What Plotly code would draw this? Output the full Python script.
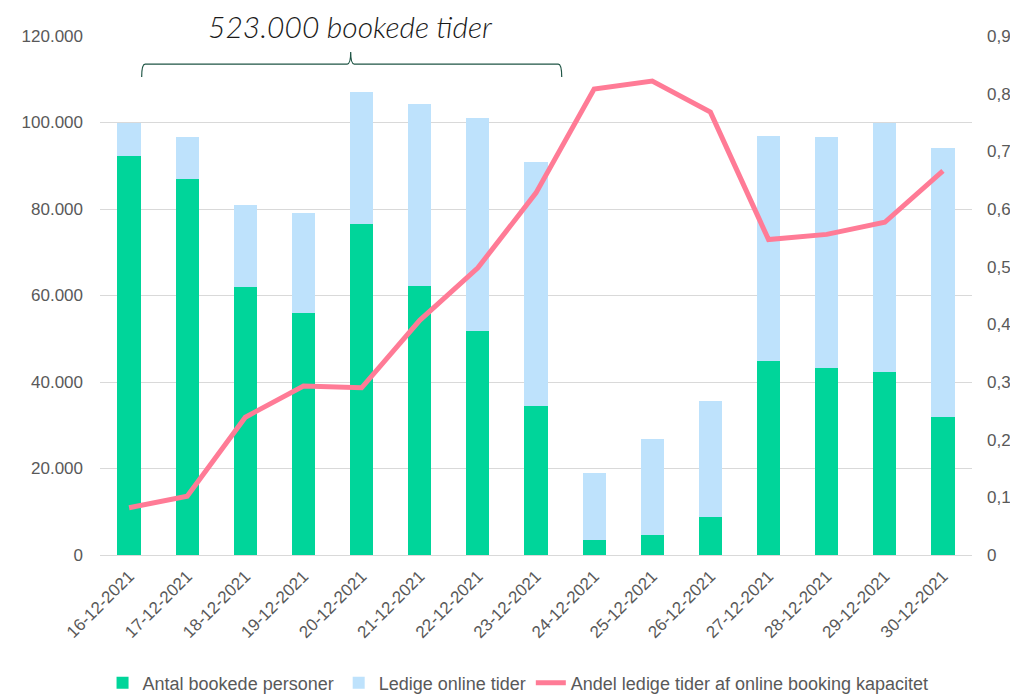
import plotly.graph_objects as go

# data
dates = ["16-12-2021", "17-12-2021", "18-12-2021", "19-12-2021", "20-12-2021",
         "21-12-2021", "22-12-2021", "23-12-2021", "24-12-2021", "25-12-2021",
         "26-12-2021", "27-12-2021", "28-12-2021", "29-12-2021", "30-12-2021"]
booked = [92300, 86900, 62000, 56000, 76500, 62200, 51800, 34500,
          3500, 4600, 8900, 44900, 43300, 42300, 32000]
free_slots = [7600, 9700, 18900, 23100, 30500, 42100, 49200, 56400,
              15500, 22200, 26700, 52000, 53400, 57700, 62100]
share_free = [0.082, 0.102, 0.239, 0.293, 0.290, 0.407, 0.498, 0.628,
              0.808, 0.822, 0.768, 0.547, 0.556, 0.577, 0.666]

right_ticks = [0, 0.1, 0.2, 0.3, 0.4, 0.5, 0.6, 0.7, 0.8, 0.9]
right_labels = ["0", "0,1", "0,2", "0,3", "0,4", "0,5", "0,6", "0,7", "0,8", "0,9"]

GREEN = "#00D59A"
BLUE = "#BEE2FC"
PINK = "#FF7B96"
GREY = "#595959"

fig = go.Figure()
fig.add_bar(x=dates, y=booked, name="Antal bookede personer",
            marker=dict(color=GREEN, line=dict(width=0)))
fig.add_bar(x=dates, y=free_slots, name="Ledige online tider",
            marker=dict(color=BLUE, line=dict(width=0)))
fig.add_scatter(x=dates, y=share_free, yaxis="y2", mode="lines",
                name="Andel ledige tider af online booking kapacitet",
                line=dict(color=PINK, width=5))

# curly bracket over the first eight days
x0, x1, xm = 0.0478, 0.5295, 0.2875
yb, yh, yt = 0.921, 0.946, 0.969
r = 0.004
brace = (f"M {x0},{yb} Q {x0},{yh} {x0 + r},{yh} L {xm - r},{yh} "
         f"Q {xm},{yh} {xm},{yt} Q {xm},{yh} {xm + r},{yh} "
         f"L {x1 - r},{yh} Q {x1},{yh} {x1},{yb}")

# page body has an 8px margin, so the figure is a bit smaller than the window
fig.update_layout(
    width=1010, height=686,
    plot_bgcolor="white", paper_bgcolor="white",
    barmode="stack", bargap=0.6,
    separators=",.",
    font=dict(family="Liberation Sans, Arial, sans-serif", size=17, color=GREY),
    margin=dict(l=92, r=46, t=28, b=139, autoexpand=False),
    xaxis=dict(tickangle=-45, showgrid=False, showline=False, ticks="",
               automargin=False, ticklabelstandoff=7,
               tickfont=dict(size=17, color=GREY)),
    yaxis=dict(range=[0, 120000], dtick=20000, tickformat=",d",
               gridcolor="#D9D9D9", gridwidth=1.3, zeroline=True,
               zerolinecolor="#D9D9D9", zerolinewidth=1.3, showline=False,
               ticks="", automargin=False, ticklabelstandoff=16,
               tickfont=dict(size=17, color=GREY)),
    yaxis2=dict(range=[0, 0.9], overlaying="y", side="right", showgrid=False,
                zeroline=False, tickvals=right_ticks, ticktext=right_labels,
                automargin=False, ticklabelstandoff=14,
                tickfont=dict(size=17, color=GREY)),
    legend=dict(orientation="h", x=0.505, xanchor="center", xref="container",
                y=0.016, yanchor="middle", yref="container",
                font=dict(size=18, color=GREY), traceorder="normal",
                itemwidth=30, tracegroupgap=0),
    shapes=[dict(type="path", path=brace, xref="paper", yref="paper",
                 line=dict(color="#1F5545", width=1.2))],
    annotations=[dict(text="<i>523.000 bookede tider</i>", xref="paper", yref="paper",
                      x=0.2875, y=1.019, xanchor="center", yanchor="middle",
                      showarrow=False,
                      font=dict(family="Lato, sans-serif", size=30, color="#1a1a1a",
                                weight=300))],
)

fig.write_html("out.html")
